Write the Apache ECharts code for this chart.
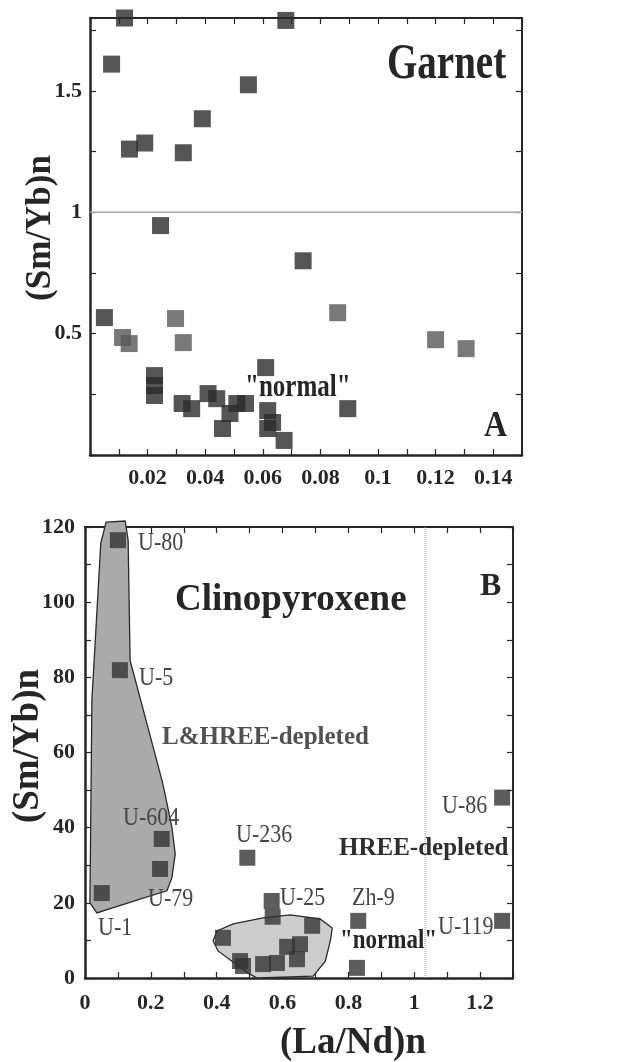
<!DOCTYPE html>
<html>
<head>
<meta charset="utf-8">
<script src="https://cdn.jsdelivr.net/npm/echarts@6/dist/echarts.min.js"></script>
<style>html,body{margin:0;padding:0;background:#fff;}#c{width:620px;height:1062px;}</style>
</head>
<body>
<div id="c"></div>
<script>
// ---------- DATA ----------
// Panel A: Garnet (La/Nd)n vs (Sm/Yb)n
const garnetDark = [
  [0.012,1.80],[0.068,1.79],[0.0075,1.61],[0.055,1.525],[0.039,1.385],
  [0.0137,1.26],[0.019,1.285],[0.0324,1.245],[0.0245,0.945],[0.074,0.80],
  [0.005,0.566],[0.061,0.36],[0.0224,0.327],[0.0224,0.286],[0.0224,0.245],
  [0.032,0.212],[0.0353,0.191],[0.041,0.253],[0.044,0.232],[0.046,0.109],
  [0.0486,0.171],[0.051,0.212],[0.054,0.212],[0.0617,0.183],[0.0617,0.109],
  [0.0634,0.134],[0.0674,0.06],[0.0895,0.191]
];
const garnetGray = [
  [0.086,0.586],[0.0297,0.562],[0.0113,0.484],[0.0136,0.459],[0.0324,0.463],
  [0.120,0.475],[0.1306,0.438]
];
const garnetRefLine = [[0,1],[0.15,1]];
const garnetXTicks = [0.02,0.04,0.06,0.08,0.1,0.12,0.14];
const garnetXTickLabels = ['0.02','0.04','0.06','0.08','0.1','0.12','0.14'];
const garnetYTicks = [0.5,1,1.5];
const garnetYTickLabels = ['0.5','1','1.5'];

// Panel B: Clinopyroxene
const cpxNames = ['U-80','U-5','U-604','U-79','U-1','U-236','U-25','','','','','','','','','','','Zh-9','','U-86','U-119'];
const cpxX = [0.100,0.106,0.233,0.228,0.051,0.493,0.567,0.570,0.690,0.419,0.614,0.653,0.471,0.480,0.541,0.583,0.644,0.830,0.826,1.267,1.267];
const cpxY = [116.5,81.9,37,29,22.6,32,20.5,16.3,13.9,10.7,8.3,9.0,4.5,3.2,3.7,4.0,5.0,15.2,2.7,48,15.2];
const depletedFieldX = [0.064,0.122,0.131,0.137,0.234,0.243,0.264,0.274,0.264,0.249,0.167,0.036,0.015,0.021,0.048];
const depletedFieldY = [121.3,121.6,116.5,84.5,52.5,49,40,33,26.7,23.2,21,17.3,20,74,115.7];
const normalFieldX = [0.450,0.541,0.623,0.714,0.751,0.745,0.730,0.693,0.523,0.495,0.404,0.389,0.401];
const normalFieldY = [14.4,16.0,16.8,15.7,13.3,9.9,4.5,0.5,0,1.3,7.2,9.9,12.5];
const cpxRefLine = [[1.033,0],[1.033,120]];
const cpxXTicks = [0,0.2,0.4,0.6,0.8,1,1.2];
const cpxXTickLabels = ['0','0.2','0.4','0.6','0.8','1','1.2'];
const cpxYTicks = [0,20,40,60,80,100,120];
const cpxYTickLabels = ['0','20','40','60','80','100','120'];

// ---------- CHART ----------
const FONT = "'Liberation Serif','DejaVu Serif','Times New Roman',serif";
const INK = '#262626';
const chart = echarts.init(document.getElementById('c'), null, {renderer:'canvas'});

function fmt(ticks, labels){
  return function(v){
    for (let i=0;i<ticks.length;i++) if (Math.abs(v-ticks[i])<1e-7) return labels[i];
    return '';
  };
}
function axis(grid, pos, min, max, interval, ticks, labels, margin){
  return {
    type:'value', gridIndex:grid, position:pos, min:min, max:max, interval:interval,
    splitLine:{show:false},
    axisLine:{show:true, onZero:false, lineStyle:{color:INK, width:(pos==='bottom'||pos==='left')?2.5:2}},
    axisTick:{show:true, inside:true, length:6, lineStyle:{color:INK, width:1.2}},
    axisLabel:{show: !!ticks, formatter: ticks?fmt(ticks,labels):undefined, margin:margin||8,
      fontFamily:FONT, fontWeight:'bold', fontSize:22, color:INK}
  };
}
function polygonSeries(xi, yi, xs, ys, fill, stroke){
  const pts = xs.map((x,i)=>[x, ys[i]]);
  return {
    type:'custom', xAxisIndex:xi, yAxisIndex:yi, clip:false, silent:true, z:1,
    data: pts,
    encode:{x:0,y:1},
    renderItem: function(params, api){
      if (params.dataIndex !== 0) return null;
      return {type:'polygon', shape:{points: pts.map(p=>api.coord(p))},
        style:{fill:fill, stroke:stroke, lineWidth:1.3}};
    }
  };
}
function txt(text, x, y, size, o){
  o = o||{};
  return {type:'text', x:x, y:y, z:100, rotation:o.rot||0, scaleX:o.sx||1, scaleY:o.sy||1,
    style:{text:text, fontFamily:FONT, fontWeight:o.w||'bold', fontSize:size, fill:o.c||INK,
      align:o.a||'left', textAlign:o.a||'left', verticalAlign:'middle', textVerticalAlign:'middle'}};
}

const cpxPoints = cpxX.map((x,i)=>[x, cpxY[i]]);

const option = {
  backgroundColor:'#fff',
  animation:false,
  grid:[
    {left:90, top:18, width:432, height:437},
    {left:85, top:527, width:428, height:451}
  ],
  xAxis:[
    axis(0,'bottom',0,0.15,0.01,garnetXTicks,garnetXTickLabels,12),
    axis(0,'top',0,0.15,0.01,null,null),
    axis(1,'bottom',0,1.3,0.1,cpxXTicks,cpxXTickLabels,14),
    axis(1,'top',0,1.3,0.1,null,null)
  ],
  yAxis:[
    axis(0,'left',0,1.8,0.25,garnetYTicks,garnetYTickLabels,8),
    axis(0,'right',0,1.8,0.25,null,null),
    axis(1,'left',0,120,10,cpxYTicks,cpxYTickLabels,10),
    axis(1,'right',0,120,10,null,null)
  ],
  series:[
    {type:'line', xAxisIndex:0, yAxisIndex:0, data:garnetRefLine, symbol:'none', silent:true,
      lineStyle:{color:'#a8a8a8', width:1.5}, z:1},
    {type:'scatter', xAxisIndex:0, yAxisIndex:0, data:garnetGray, symbol:'rect', symbolSize:17,
      itemStyle:{color:'#585858'}, z:3},
    {type:'scatter', xAxisIndex:0, yAxisIndex:0, data:garnetDark, symbol:'rect', symbolSize:17,
      itemStyle:{color:'#2a2a2a'}, z:4},
    polygonSeries(2,2,depletedFieldX,depletedFieldY,'#ababab','#2a2a2a'),
    polygonSeries(2,2,normalFieldX,normalFieldY,'#cdcdcd','#2a2a2a'),
    {type:'line', xAxisIndex:2, yAxisIndex:2, data:cpxRefLine, symbol:'none', silent:true,
      lineStyle:{color:'#8a8a8a', width:1, type:'dotted'}, z:1},
    {type:'scatter', xAxisIndex:2, yAxisIndex:2, data:cpxPoints, symbol:'rect', symbolSize:16,
      itemStyle:{color:'#333333'}, z:4}
  ],
  graphic:[
    txt('Garnet', 387, 65, 39, {sy:1.3}),
    txt('"normal"', 245, 388, 25, {sy:1.25}),
    txt('A', 484, 426, 32, {sy:1.15}),
    txt('(Sm/Yb)n', 41, 228, 35, {a:'center', rot:Math.PI/2}),
    txt('Clinopyroxene', 175, 600, 37),
    txt('B', 480, 587, 32),
    txt('L&HREE-depleted', 162, 738, 25, {c:'#505050'}),
    txt('HREE-depleted', 339, 849, 25, {c:'#2e2e2e'}),
    txt('"normal"', 340, 941, 23, {sy:1.2}),
    txt(cpxNames[0], 138, 543, 22, {w:'normal', c:'#444', sy:1.15}),
    txt(cpxNames[1], 139, 678, 22, {w:'normal', c:'#444', sy:1.15}),
    txt(cpxNames[2], 123, 818, 22, {w:'normal', c:'#444', sy:1.15}),
    txt(cpxNames[3], 148, 899, 22, {w:'normal', c:'#444', sy:1.15}),
    txt(cpxNames[4], 98, 928, 22, {w:'normal', c:'#444', sy:1.15}),
    txt(cpxNames[5], 236, 835, 22, {w:'normal', c:'#444', sy:1.15}),
    txt(cpxNames[6], 280, 898, 22, {w:'normal', c:'#444', sy:1.15}),
    txt(cpxNames[17], 352, 898, 22, {w:'normal', c:'#444', sy:1.15}),
    txt(cpxNames[19], 442, 806, 22, {w:'normal', c:'#444', sy:1.15}),
    txt(cpxNames[20], 438, 927, 22, {w:'normal', c:'#444', sy:1.15}),
    txt('(Sm/Yb)n', 28, 746, 37, {a:'center', rot:Math.PI/2}),
    txt('(La/Nd)n', 353, 1043, 37, {a:'center'})
  ]
};
chart.setOption(option);
</script>
</body>
</html>
